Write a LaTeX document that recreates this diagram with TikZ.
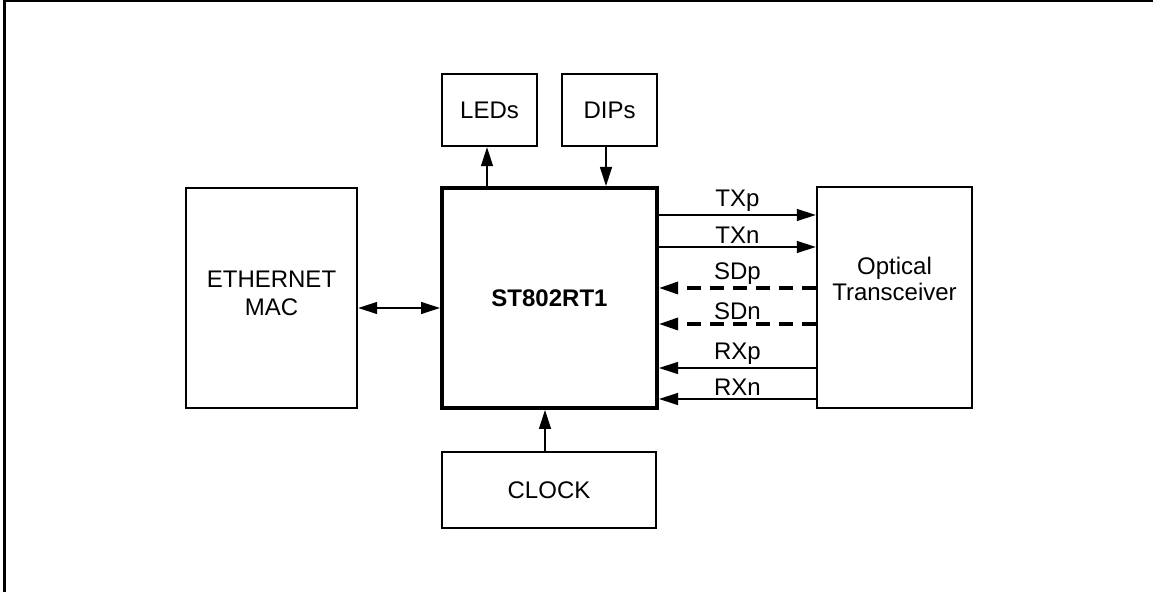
\documentclass[tikz,border=0pt]{standalone}
\usepackage{fontspec}
\setmainfont{Liberation Sans}
\usetikzlibrary{arrows.meta}
\tikzset{
  Tri/.tip={Triangle[length=9.5pt,width=6pt]},
  blk/.style={draw, line width=1.2pt, inner sep=0pt, align=center},
  sig/.style={line width=0.6pt, -Tri},
  sd/.style={line width=1.6pt, dash pattern=on 7pt off 4.5pt, -Tri},
  lbl/.style={above, inner sep=1.5pt},
}
\begin{document}
\begin{tikzpicture}[x=0.5pt,y=-0.5pt,font=\fontsize{12}{14}\selectfont]
	\useasboundingbox (0,0) rectangle (1153,592);
	\draw[line width=1.5pt] (4,592) -- (4,1) -- (1153,1);
	\node[blk, minimum width=85.5pt, minimum height=110pt,
		label={[align=center, yshift=2.5pt]center:ETHERNET\\MAC}] (eth) at (271.5,298) {};
	\node[blk, line width=2pt, minimum width=107.5pt, minimum height=110pt] (st) at (549.5,298) {\textbf{ST802RT1}};
	\node[blk, minimum width=47.5pt, minimum height=36pt] (leds) at (489.5,110) {LEDs};
	\node[blk, minimum width=47.5pt, minimum height=36pt] (dips) at (609.5,110) {DIPs};
	\node[blk, minimum width=107pt, minimum height=38pt] (clk) at (549,490) {CLOCK};
	\node[blk, minimum width=77.5pt, minimum height=110.5pt,
		label={[align=center, font=\fontsize{12}{13}\selectfont, yshift=9.5pt]center:Optical\\Transceiver}] (opt) at (894.5,297.5) {};
	\coordinate (ledx) at (487,0);
	\coordinate (dipx) at (606,0);
	\coordinate (clkx) at (545,0);
	\coordinate (macy) at (0,308);
	\draw[sig] (st.north -| ledx) -- (leds.south -| ledx);
	\draw[sig] (dips.south -| dipx) -- (st.north -| dipx);
	\draw[sig] (clk.north -| clkx) -- (st.south -| clkx);
	\draw[sig, Tri-Tri] (eth.east |- macy) -- (st.west |- macy);
	\foreach \y/\txt in {215/TXp, 247/TXn} {
		\coordinate (s) at (0,\y);
		\draw[sig] (st.east |- s) -- node[lbl] {\txt} (opt.west |- s);
	}
	\foreach \y/\txt in {288/SDp, 324/SDn} {
		\coordinate (s) at (0,\y);
		\draw[sd] (opt.west |- s) -- node[lbl, inner sep=1.2pt] {\txt} (st.east |- s);
	}
	\foreach \y/\txt in {368/RXp, 399/RXn} {
		\coordinate (s) at (0,\y);
		\draw[sig] (opt.west |- s) -- node[lbl] {\txt} (st.east |- s);
	}
\end{tikzpicture}
\end{document}
